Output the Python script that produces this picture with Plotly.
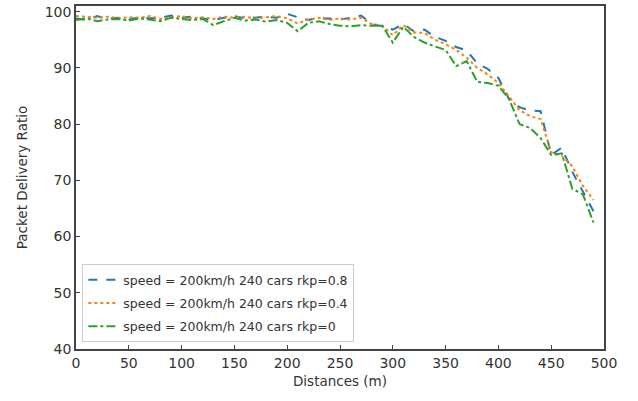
import plotly.graph_objects as go

distances = list(range(0, 500, 10))

pdr_rkp08 = [98.8, 98.5, 99.2, 98.7, 98.9, 98.6, 99.0, 98.8, 98.9, 99.3,
             98.9, 99.1, 98.8, 98.5, 98.9, 99.2, 98.8, 99.0, 99.1, 98.9,
             99.6, 99.0, 98.5, 98.9, 98.7, 98.6, 98.9, 99.3, 97.8, 97.4,
             96.8, 97.8, 96.5, 96.8, 95.5, 94.8, 93.7, 93.1, 90.8, 89.8,
             88.2, 84.5, 83.0, 82.4, 82.3, 74.5, 75.8, 71.5, 68.0, 64.5]

pdr_rkp04 = [99.2, 99.0, 98.9, 99.1, 98.8, 99.0, 98.9, 99.2, 98.7, 99.0,
             99.2, 98.8, 99.0, 98.7, 99.1, 98.9, 99.1, 98.8, 99.0, 99.2,
             98.8, 97.9, 98.6, 98.9, 98.5, 98.8, 98.6, 98.9, 97.8, 97.5,
             95.8, 97.6, 96.3, 96.2, 95.0, 94.2, 93.2, 91.8, 90.0, 88.8,
             87.3, 85.0, 82.5, 81.4, 80.9, 75.0, 74.3, 72.5, 69.0, 66.5]

pdr_rkp0 = [98.5, 98.8, 98.3, 98.6, 98.7, 98.4, 98.8, 98.6, 98.3, 98.9,
            98.7, 98.5, 98.7, 97.6, 98.3, 98.9, 98.4, 98.6, 98.2, 98.5,
            98.0, 96.5, 98.0, 98.3, 97.8, 97.5, 97.4, 97.6, 97.5, 97.5,
            94.5, 97.3, 95.5, 94.5, 93.8, 93.2, 90.3, 91.2, 87.5, 87.3,
            86.8, 84.5, 80.0, 79.3, 77.5, 74.5, 74.8, 68.5, 67.5, 62.5]

series_names = ["speed = 200km/h 240 cars rkp=0.8",
                "speed = 200km/h 240 cars rkp=0.4",
                "speed = 200km/h 240 cars rkp=0"]

x_ticks = list(range(0, 501, 50))
y_ticks = list(range(40, 101, 10))

fig = go.Figure()
styles = [("#1f77b4", "dash"), ("#ff7f0e", "dot"), ("#2ca02c", "dashdot")]
for i, (name, vals, (c, d)) in enumerate(zip(series_names, [pdr_rkp08, pdr_rkp04, pdr_rkp0], styles)):
    fig.add_trace(go.Scatter(x=distances, y=vals, mode="lines", name=name,
                             legendgroup=f"g{i}",
                             line=dict(color=c, dash=d, width=2)))

axis_common = dict(showline=True, linecolor="#444", linewidth=1.5, mirror=True,
                   ticks="inside", ticklen=4, tickcolor="#444", showgrid=False,
                   zeroline=False, tickfont=dict(size=14, color="#333"))

fig.update_layout(
    width=638, height=401,
    margin=dict(l=76, r=34, t=4, b=52),
    paper_bgcolor="white", plot_bgcolor="white",
    font=dict(family="DejaVu Sans", size=13, color="#333"),
    xaxis=dict(range=[0, 500], tickvals=x_ticks,
               title=dict(text="Distances (m)", font=dict(size=13.5), standoff=7),
               **axis_common),
    yaxis=dict(range=[40, 101], tickvals=y_ticks,
               title=dict(text="Packet Delivery Ratio", font=dict(size=13.5), standoff=14),
               **axis_common),
    legend=dict(x=0.012, y=0.02, xanchor="left", yanchor="bottom",
                bgcolor="rgba(255,255,255,0.8)", bordercolor="#ccc", borderwidth=1,
                tracegroupgap=4,
                font=dict(size=12.5, color="#333")),
)

fig.write_html("out.html")
